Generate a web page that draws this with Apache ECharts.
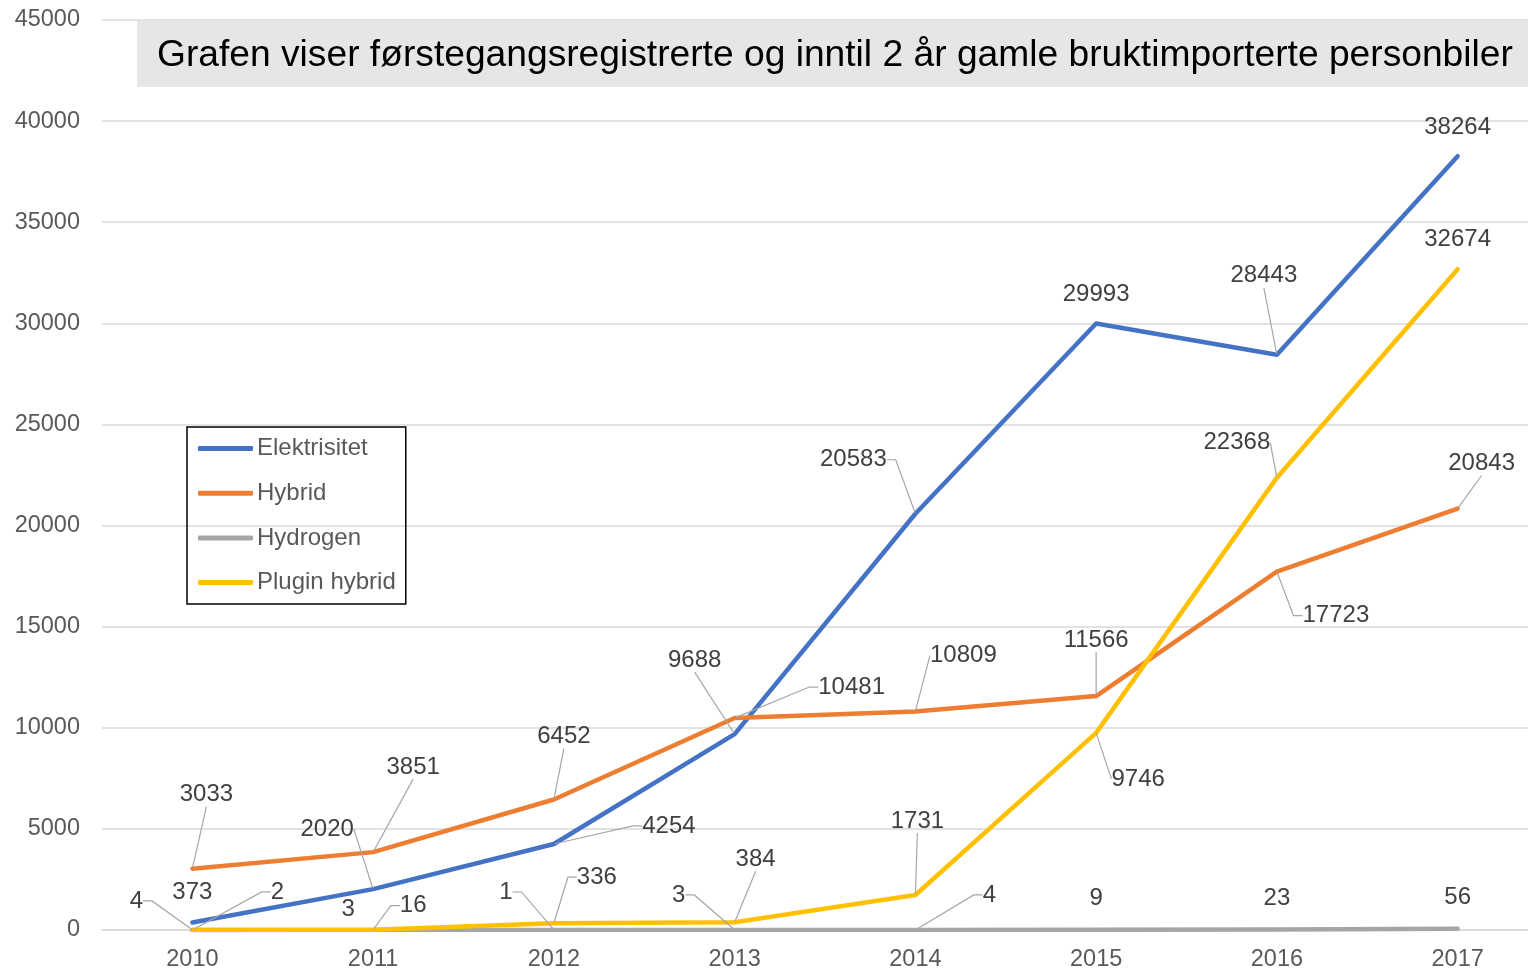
<!DOCTYPE html>
<html>
<head>
<meta charset="utf-8">
<script src="https://cdn.jsdelivr.net/npm/echarts@6/dist/echarts.min.js"></script>
<style>
  html, body { margin: 0; padding: 0; background: #fff; }
  #chart { width: 1528px; height: 970px; }
</style>
</head>
<body>
<div id="chart"></div>
<script>
// data
const years = ['2010', '2011', '2012', '2013', '2014', '2015', '2016', '2017'];
const elektrisitet = [373, 2020, 4254, 9688, 20583, 29993, 28443, 38264];
const hybrid = [3033, 3851, 6452, 10481, 10809, 11566, 17723, 20843];
const hydrogen = [4, 3, 1, 3, 4, 9, 23, 56];
const pluginHybrid = [2, 16, 336, 384, 1731, 9746, 22368, 32674];
const yTicks = [0, 5000, 10000, 15000, 20000, 25000, 30000, 35000, 40000, 45000];

// where each data label sits relative to its point (px), like the excel callouts
const labelOffsets = [
  [[0, -30], [-46, -60], [115, -18], [-40, -74], [-62, -54], [0, -29], [-13, -79], [0, -29]],
  [[14, -74], [40, -85], [10, -63], [117, -31], [48, -56], [0, -56], [59, 44], [24, -45]],
  [[-56, -29], [-25, -21], [-48, -38], [-56, -35], [74, -35], [0, -31], [0, -31], [0, -31]],
  [[85, -38], [40, -24], [43, -46], [21, -63], [2, -74], [42, 46], [-40, -35], [0, -30]]
];
// 0 = no leader line, 1 = straight, 2 = with short elbow at the label
const leaders = [
  [0, 1, 2, 1, 2, 0, 1, 0],
  [1, 1, 1, 2, 1, 1, 2, 1],
  [2, 0, 2, 2, 2, 0, 0, 0],
  [2, 2, 2, 1, 1, 1, 1, 0]
];

const font = '"Liberation Sans", Arial, sans-serif';
const names = ['Elektrisitet', 'Hybrid', 'Hydrogen', 'Plugin hybrid'];
const colors = ['#4472c4', '#ed7d31', '#a5a5a5', '#ffc000'];
const values = [elektrisitet, hybrid, hydrogen, pluginHybrid];

function makeSeries(s) {
  return {
    name: names[s],
    type: 'line',
    data: values[s].map((v, i) => ({
      value: v,
      labelLine: {
        show: leaders[s][i] > 0,
        length2: leaders[s][i] === 2 ? 9 : 0
      }
    })),
    color: colors[s],
    lineStyle: { width: 4.5, color: colors[s], cap: 'round', join: 'round' },
    symbol: 'circle',
    symbolSize: 2,
    showSymbol: true,
    itemStyle: { color: colors[s] },
    emphasis: { disabled: true },
    label: {
      show: true,
      position: 'inside',
      formatter: p => String(p.value),
      fontFamily: font,
      fontSize: 24,
      color: '#404040',
      padding: [3, 6]
    },
    labelLine: {
      lineStyle: { color: '#a6a6a6', width: 1.2 }
    },
    labelLayout: params => {
      const off = labelOffsets[s][params.dataIndex];
      return { dx: off[0], dy: off[1], hideOverlap: false };
    }
  };
}

const chart = echarts.init(document.getElementById('chart'));
chart.setOption({
  animation: false,
  backgroundColor: '#fff',
  textStyle: { fontFamily: font },
  title: {
    text: 'Grafen viser førstegangsregistrerte og inntil 2 år gamle bruktimporterte personbiler',
    left: 137,
    top: 20,
    padding: [16, 18, 11, 20],
    backgroundColor: '#e7e6e6',
    textStyle: { fontFamily: font, fontSize: 37.2, fontWeight: 'normal', color: '#000', lineHeight: 40 }
  },
  legend: {
    orient: 'vertical',
    left: 187,
    top: 427,
    padding: [8, 10, 8, 11],
    itemGap: 17.7,
    itemWidth: 55,
    itemHeight: 5,
    icon: 'roundRect',
    borderColor: '#000',
    borderWidth: 1.5,
    borderRadius: 0,
    textStyle: { fontFamily: font, fontSize: 24, color: '#595959', lineHeight: 27, padding: [0, 0, 0, -1] },
    data: names
  },
  grid: { left: 102, width: 1446, top: 20, bottom: 40, containLabel: false, outerBoundsMode: 'none' },
  xAxis: {
    type: 'category',
    data: years,
    boundaryGap: true,
    axisLine: { lineStyle: { color: '#d9d9d9', width: 1.5 } },
    axisTick: { show: false },
    axisLabel: { fontFamily: font, fontSize: 23.5, color: '#595959', margin: 18 }
  },
  yAxis: {
    type: 'value',
    min: yTicks[0],
    max: yTicks[yTicks.length - 1],
    interval: yTicks[1] - yTicks[0],
    axisLine: { show: false },
    axisTick: { show: false },
    axisLabel: { fontFamily: font, fontSize: 23.5, color: '#595959', margin: 22, formatter: v => String(v) },
    splitLine: { lineStyle: { color: '#d9d9d9', width: 1.5 } }
  },
  series: [0, 1, 2, 3].map(makeSeries)
});
</script>
</body>
</html>
